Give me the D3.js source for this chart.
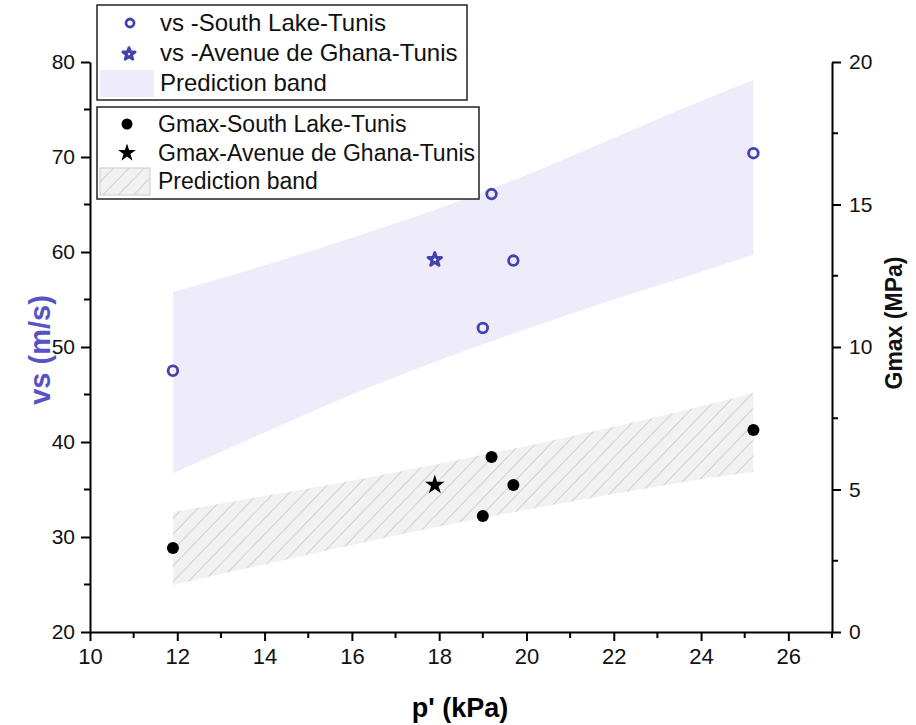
<!DOCTYPE html>
<html><head><meta charset="utf-8">
<script src="https://cdn.jsdelivr.net/npm/d3@7"></script>
<style>body{margin:0;background:#fff}svg{font-family:"Liberation Sans",Arial,sans-serif}</style>
</head><body><svg id="c" width="916" height="725"></svg>
<script>
// ---- data ----
const pSouth = [11.9, 19.0, 19.2, 19.7, 25.2];
const vsSouth = [47.5, 52.0, 66.1, 59.1, 70.4];
const gSouth = [2.95, 4.07, 6.14, 5.16, 7.09];
const pGhana = [17.9];
const vsGhana = [59.2];
const gGhana = [5.16];
const bandP = [11.9, 14, 16, 18, 20, 22, 24, 25.2];
const vsBandLow = [36.7, 41.0, 45.0, 48.6, 51.9, 55.0, 57.9, 59.7];
const vsBandHigh = [55.8, 58.6, 61.5, 64.6, 68.1, 72.0, 75.9, 78.1];
const gBandLow = [1.65, 2.37, 3.05, 3.70, 4.29, 4.84, 5.36, 5.61];
const gBandHigh = [4.21, 4.77, 5.31, 5.90, 6.53, 7.20, 7.92, 8.39];
const xTicks = [10, 12, 14, 16, 18, 20, 22, 24, 26];
const yLeftTicks = [20, 30, 40, 50, 60, 70, 80];
const yRightTicks = [0, 5, 10, 15, 20];

const svg = d3.select("#c");
const L = 90, R = 832, T = 62, B = 632;
const x = d3.scaleLinear().domain([10, 27]).range([L, R]);
const yL = d3.scaleLinear().domain([20, 80]).range([B, T]);
const yR = d3.scaleLinear().domain([0, 20]).range([B, T]);
const blue = "#4343ad";

// hatch pattern
const defs = svg.append("defs");
const pat = defs.append("pattern").attr("id", "hatch").attr("patternUnits", "userSpaceOnUse")
  .attr("width", 11).attr("height", 11).attr("patternTransform", "rotate(44)");
pat.append("rect").attr("width", 11).attr("height", 11).attr("fill", "#f1f1f1");
pat.append("line").attr("x1", 0).attr("y1", 0).attr("x2", 0).attr("y2", 11).attr("stroke", "#b5b5b5").attr("stroke-width", 1.1);

// bands
const vsBand = bandP.map((p, i) => ({p, lo: vsBandLow[i], hi: vsBandHigh[i]}));
const gBand = bandP.map((p, i) => ({p, lo: gBandLow[i], hi: gBandHigh[i]}));
svg.append("path").datum(vsBand).attr("fill", "#eeecfa")
  .attr("d", d3.area().x(d => x(d.p)).y0(d => yL(d.lo)).y1(d => yL(d.hi)).curve(d3.curveMonotoneX));
svg.append("path").datum(gBand).attr("fill", "url(#hatch)")
  .attr("d", d3.area().x(d => x(d.p)).y0(d => yR(d.lo)).y1(d => yR(d.hi)).curve(d3.curveMonotoneX));

// axes
function styleAxis(g) {
  g.selectAll("path.domain").attr("stroke", "#000").attr("stroke-width", 2);
  g.selectAll(".tick line").attr("stroke", "#000").attr("stroke-width", 2);
  g.selectAll(".tick text").attr("font-size", 21).attr("fill", "#111").attr("font-family", "Liberation Sans, Arial, sans-serif");
}
function minor(g, vals, fn, dir) {
  vals.forEach(v => {
    const p = fn(v);
    if (dir === "x") g.append("line").attr("x1", p).attr("x2", p).attr("y1", 0).attr("y2", 6).attr("stroke", "#000").attr("stroke-width", 2);
    else g.append("line").attr("y1", p).attr("y2", p).attr("x1", 0).attr("x2", dir === "l" ? -6 : 6).attr("stroke", "#000").attr("stroke-width", 2);
  });
}
const gx = svg.append("g").attr("transform", `translate(0,${B})`)
  .call(d3.axisBottom(x).tickValues(xTicks).tickSize(9).tickSizeOuter(0).tickPadding(7));
styleAxis(gx);
gx.selectAll(".tick text").attr("font-family", "Liberation Sans Narrow, Liberation Sans, Arial, sans-serif").attr("font-size", 22);
minor(gx, [11, 13, 15, 17, 19, 21, 23, 25, 27], x, "x");
const gl = svg.append("g").attr("transform", `translate(${L},0)`)
  .call(d3.axisLeft(yL).tickValues(yLeftTicks).tickSize(9).tickSizeOuter(0).tickPadding(6));
styleAxis(gl);
minor(gl, [25, 35, 45, 55, 65, 75], yL, "l");
const gr = svg.append("g").attr("transform", `translate(${R},0)`)
  .call(d3.axisRight(yR).tickValues(yRightTicks).tickSize(9).tickSizeOuter(0).tickPadding(8));
styleAxis(gr);
minor(gr, [2.5, 7.5, 12.5, 17.5], yR, "r");

// axis titles
svg.append("text").attr("x", 460).attr("y", 717).attr("text-anchor", "middle")
  .attr("font-size", 27).attr("font-weight", "bold").text("p' (kPa)");
svg.append("text").attr("transform", "translate(50,350) rotate(-90)").attr("text-anchor", "middle")
  .attr("font-size", 29).attr("font-weight", "bold").attr("fill", "#5654c4").text("vs (m/s)");
svg.append("text").attr("transform", "translate(902,323) rotate(-90)").attr("text-anchor", "middle")
  .attr("font-size", 23).attr("font-weight", "bold").attr("fill", "#111").text("Gmax (MPa)");

// markers
const star = d3.symbol().type(d3.symbolStar);
svg.append("g").selectAll("circle").data(pSouth).join("circle")
  .attr("cx", d => x(d)).attr("cy", (d, i) => yL(vsSouth[i])).attr("r", 4.8)
  .attr("fill", "none").attr("stroke", blue).attr("stroke-width", 2.8);
svg.append("g").selectAll("path").data(pGhana).join("path")
  .attr("transform", (d, i) => `translate(${x(d)},${yL(vsGhana[i])})`)
  .attr("d", star.size(55)).attr("fill", "#fff").attr("stroke", blue).attr("stroke-width", 3).attr("stroke-linejoin", "round");
svg.append("g").selectAll("circle").data(pSouth).join("circle")
  .attr("cx", d => x(d)).attr("cy", (d, i) => yR(gSouth[i])).attr("r", 6).attr("fill", "#000");
svg.append("g").selectAll("path").data(pGhana).join("path")
  .attr("transform", (d, i) => `translate(${x(d)},${yR(gGhana[i])})`)
  .attr("d", star.size(120)).attr("fill", "#000");

// legends
const leg1 = svg.append("g");
leg1.append("rect").attr("x", 97).attr("y", 5).attr("width", 370).attr("height", 95)
  .attr("fill", "#fff").attr("stroke", "#222").attr("stroke-width", 1.5);
leg1.append("circle").attr("cx", 130).attr("cy", 23).attr("r", 4).attr("fill", "none").attr("stroke", blue).attr("stroke-width", 2.8);
leg1.append("path").attr("transform", "translate(129,54)").attr("d", star.size(45)).attr("fill", "#fff").attr("stroke", blue).attr("stroke-width", 3).attr("stroke-linejoin", "round");
leg1.append("rect").attr("x", 100).attr("y", 70).attr("width", 54).attr("height", 27).attr("fill", "#eeecfa");
[["vs -South Lake-Tunis", 31], ["vs -Avenue de Ghana-Tunis", 61], ["Prediction band", 91]].forEach(([t, y]) =>
  leg1.append("text").attr("x", 160).attr("y", y).attr("font-size", 24).attr("fill", "#111").text(t));

const leg2 = svg.append("g");
leg2.append("rect").attr("x", 97).attr("y", 107).attr("width", 382).attr("height", 92)
  .attr("fill", "#fff").attr("stroke", "#222").attr("stroke-width", 1.5);
leg2.append("circle").attr("cx", 127).attr("cy", 124).attr("r", 5.5).attr("fill", "#000");
leg2.append("path").attr("transform", "translate(127,153)").attr("d", star.size(100)).attr("fill", "#000");
leg2.append("rect").attr("x", 100).attr("y", 168).attr("width", 50).attr("height", 27).attr("fill", "url(#hatch)").attr("stroke", "#ccc");
[["Gmax-South Lake-Tunis", 132], ["Gmax-Avenue de Ghana-Tunis", 161], ["Prediction band", 189]].forEach(([t, y]) =>
  leg2.append("text").attr("x", 158).attr("y", y).attr("font-size", 23).attr("fill", "#111").text(t));
</script></body></html>
